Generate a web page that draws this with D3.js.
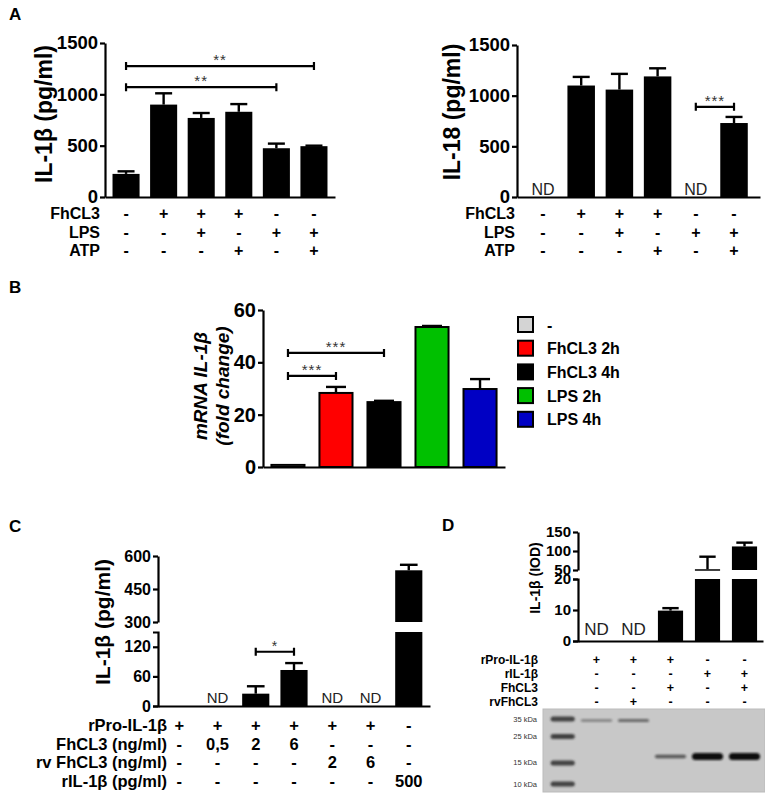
<!DOCTYPE html>
<html>
<head>
<meta charset="utf-8">
<script src="https://cdn.jsdelivr.net/npm/d3@7"></script>
<style>
body{margin:0;background:#fff}
svg text{font-family:Arial,"Liberation Sans",sans-serif}
</style>
</head>
<body>
<div id="viz-container"></div>
<script>
// ---- data ----
// A: IL-1b and IL-18 (pg/ml)
let aFhCL3 = ["-","+","+","+","-","-"];
let aLPS   = ["-","-","+","-","+","+"];
let aATP   = ["-","-","-","+","-","+"];
let il1bMean = [225, 900, 770, 830, 475, 495];
let il1bSem  = [25, 110, 48, 75, 45, 5];
let il18Mean = [null, 1100, 1060, 1190, null, 730];
let il18Sem  = [null, 85, 155, 80, null, 60];
let il1bTicks = [0, 500, 1000, 1500];
let il18Ticks = [0, 500, 1000, 1500];
let il1bSig = [{from:0, to:5, y:1275, label:"**"}, {from:0, to:4, y:1070, label:"**"}];
let il18Sig = [{from:4, to:5, y:890, label:"***"}];

// B: mRNA IL-1b fold change
let mrnaGroups = ["-","FhCL3 2h","FhCL3 4h","LPS 2h","LPS 4h"];
let mrnaColors = ["#d4d4d4","#ff0000","#000000","#00c000","#0000c4"];
let mrnaMean = [0.8, 28.3, 24.8, 53.5, 29.8];
let mrnaSem  = [0, 2.3, 0.5, 0.4, 3.8];
let mrnaTicks = [0, 20, 40, 60];
let mrnaSig = [{from:0, to:2, y:43.6, label:"***"}, {from:0, to:1, y:34.8, label:"***"}];

// C: IL-1b (pg/ml), broken axis
let cRows = ["rPro-IL-1\u03b2","FhCL3 (ng/ml)","rv FhCL3 (ng/ml)","rIL-1\u03b2 (pg/ml)"];
let cRowVals = [
  ["+","+","+","+","+","+","-"],
  ["-","0,5","2","6","-","-","-"],
  ["-","-","-","-","2","6","-"],
  ["-","-","-","-","-","-","500"]
];
let cMean = [0, null, 25, 73, null, null, 535];
let cSem  = [0, null, 15, 14, null, null, 25];
let cTicksLo = [0, 60, 120];
let cTicksHi = [300, 450, 600];
let cSig = [{from:2, to:3, y:110, label:"*"}];

// D: IL-1b (IOD), broken axis + gel
let dRows = ["rPro-IL-1\u03b2","rIL-1\u03b2","FhCL3","rvFhCL3"];
let dRowVals = [
  ["+","+","+","-","-"],
  ["-","-","-","+","+"],
  ["-","-","+","-","+"],
  ["-","+","-","-","-"]
];
let dMean = [null, null, 9.8, 52, 112];
let dSem  = [null, null, 0.8, 33, 10];
let dTicksLo = [0, 10, 20];
let dTicksHi = [50, 100, 150];
let markerKDa = [35, 25, 15, 10];
// gel bands: lane, kDa, darkness, thickness
let gelBands = [
  {lane:0, kda:34, dark:0.4, th:2.5},
  {lane:1, kda:34, dark:0.5, th:3},
  {lane:2, kda:17, dark:0.6, th:3.5},
  {lane:3, kda:17, dark:1.0, th:7},
  {lane:4, kda:17, dark:1.0, th:7}
];

// ---- drawing ----
let svg = d3.select("#viz-container").append("svg")
  .attr("width", 765).attr("height", 795);

let defs = svg.append("defs");
defs.append("filter").attr("id", "blur").attr("x", "-20%").attr("y", "-100%").attr("width", "140%").attr("height", "300%")
  .append("feGaussianBlur").attr("stdDeviation", "1.2 0.8");

function panelLabel(t, x, y){
  svg.append("text").attr("x", x).attr("y", y).text(t)
    .attr("font-size", 17).attr("font-weight", "bold");
}

function yAxis(scale, x, ticks, fs, outer){
  let g = svg.append("g").attr("transform", "translate(" + x + ",0)")
    .call(d3.axisLeft(scale).tickValues(ticks).tickFormat(d3.format("d"))
      .tickSize(5).tickPadding(2).tickSizeOuter(outer));
  g.select(".domain").attr("stroke-width", 2.2);
  g.selectAll(".tick line").attr("stroke-width", 2.2);
  g.selectAll(".tick text").attr("font-size", fs).attr("font-weight", "bold").attr("fill", "#000");
  return g;
}

function xLine(x, y0){
  let g = svg.append("g").attr("transform", "translate(0," + y0 + ")")
    .call(d3.axisBottom(x).tickValues([]).tickSizeOuter(0));
  g.select(".domain").attr("stroke-width", 2.2);
}

function errBars(data, x, yOf, cw){
  let c = x.bandwidth() / 2;
  let g = svg.append("g").attr("stroke", "#000").attr("stroke-width", 2.4);
  data.forEach(function(d){
    if (!d.s) return;
    let ys = yOf(d.v + d.s), yb = yOf(d.v);
    g.append("line").attr("x1", x(d.i) + c).attr("x2", x(d.i) + c).attr("y1", yb).attr("y2", ys);
    g.append("line").attr("x1", x(d.i) + c - cw/2).attr("x2", x(d.i) + c + cw/2).attr("y1", ys).attr("y2", ys);
  });
}

function brackets(sig, x, y, fs){
  let c = x.bandwidth() / 2;
  sig.forEach(function(s){
    let x1 = x(s.from) + c, x2 = x(s.to) + c, yy = y(s.y);
    svg.append("path")
      .attr("d", "M" + x1 + "," + (yy-4) + "V" + (yy+4) + "M" + x1 + "," + yy + "H" + x2 + "M" + x2 + "," + (yy-4) + "V" + (yy+4))
      .attr("stroke", "#000").attr("stroke-width", 2.2).attr("fill", "none");
    svg.append("text").attr("x", (x1 + x2) / 2).attr("y", yy - 1).attr("text-anchor", "middle")
      .attr("font-size", fs).attr("fill", "#333").attr("letter-spacing", 1).text(s.label);
  });
}

function rowTable(labels, vals, x, rightX, y0, dy, fsL, fsV){
  let c = x.bandwidth() / 2;
  labels.forEach(function(lab, r){
    svg.append("text").attr("x", rightX).attr("y", y0 + r*dy).attr("text-anchor", "end")
      .attr("font-size", fsL).attr("font-weight", "bold").text(lab);
    svg.selectAll(null).data(vals[r]).join("text")
      .attr("x", (d, i) => x(i) + c).attr("y", y0 + r*dy).attr("text-anchor", "middle")
      .attr("font-size", fsV).attr("font-weight", "bold").text(d => d);
  });
}

function ndLabels(data, x, y0, fs){
  let c = x.bandwidth() / 2;
  svg.selectAll(null).data(data.filter(d => d.v == null)).join("text")
    .attr("x", d => x(d.i) + c).attr("y", y0).attr("text-anchor", "middle")
    .attr("font-size", fs).attr("fill", "#222").text("ND");
}

function yLabel(lines, x, y, fs, italic, bold){
  let t = svg.append("text").attr("transform", "translate(" + x + "," + y + ") rotate(-90)")
    .attr("text-anchor", "middle").attr("font-size", fs)
    .attr("font-weight", bold ? "bold" : "normal").attr("font-style", italic ? "italic" : "normal");
  lines.forEach(function(l, k){
    t.append("tspan").attr("x", 0).attr("dy", k === 0 ? 0 : fs * 1.15).text(l);
  });
}

function pack(mean, sem){ return mean.map((v, i) => ({i: i, v: v, s: sem[i]})); }

// ---- Panel A left ----
panelLabel("A", 9, 20);
let xA1 = d3.scaleBand().domain(d3.range(6)).range([105, 335]).paddingInner(0.28).paddingOuter(0.2);
let yA1 = d3.scaleLinear().domain([0, 1500]).range([197, 43]);
let dA1 = pack(il1bMean, il1bSem);
svg.selectAll(null).data(dA1.filter(d => d.v != null)).join("rect")
  .attr("x", d => xA1(d.i)).attr("width", xA1.bandwidth())
  .attr("y", d => yA1(d.v)).attr("height", d => yA1(0) - yA1(d.v)).attr("fill", "#000");
errBars(dA1, xA1, yA1, 17);
yAxis(yA1, 105, il1bTicks, 18.5, 0);
xLine(xA1, 197);
brackets(il1bSig, xA1, yA1, 15);
rowTable(["FhCL3","LPS","ATP"], [aFhCL3, aLPS, aATP], xA1, 100, 219, 18.5, 16, 16);
yLabel(["IL-1\u03b2 (pg/ml)"], 52, 114, 23, false, true);

// ---- Panel A right ----
let xA2 = d3.scaleBand().domain(d3.range(6)).range([517, 760]).paddingInner(0.28).paddingOuter(0.32);
let yA2 = d3.scaleLinear().domain([0, 1500]).range([197, 45]);
let dA2 = pack(il18Mean, il18Sem);
svg.selectAll(null).data(dA2.filter(d => d.v != null)).join("rect")
  .attr("x", d => xA2(d.i)).attr("width", xA2.bandwidth())
  .attr("y", d => yA2(d.v)).attr("height", d => yA2(0) - yA2(d.v)).attr("fill", "#000");
errBars(dA2, xA2, yA2, 17);
yAxis(yA2, 517, il18Ticks, 18.5, 0);
xLine(xA2, 197);
brackets(il18Sig, xA2, yA2, 15);
ndLabels(dA2, xA2, 195, 16);
rowTable(["FhCL3","LPS","ATP"], [aFhCL3, aLPS, aATP], xA2, 515, 219, 18.5, 16, 16);
yLabel(["IL-18 (pg/ml)"], 460, 112, 23, false, true);

// ---- Panel B ----
panelLabel("B", 9, 293);
let xB = d3.scaleBand().domain(d3.range(5)).range([263, 505]).paddingInner(0.27).paddingOuter(0.155);
let yB = d3.scaleLinear().domain([0, 60]).range([467, 310]);
let dB = pack(mrnaMean, mrnaSem);
svg.selectAll(null).data(dB).join("rect")
  .attr("x", d => xB(d.i) + 1).attr("width", xB.bandwidth() - 2)
  .attr("y", d => yB(d.v)).attr("height", d => yB(0) - yB(d.v))
  .attr("fill", d => mrnaColors[d.i]).attr("stroke", "#000").attr("stroke-width", 2);
errBars(dB, xB, yB, 20);
yAxis(yB, 263, mrnaTicks, 20, 0);
xLine(xB, 467);
brackets(mrnaSig, xB, yB, 15);
yLabel(["mRNA IL-1\u03b2", "(fold change)"], 207, 386, 19, true, true);

let leg = svg.append("g").attr("transform", "translate(518,317)");
leg.selectAll("rect").data(mrnaGroups).join("rect")
  .attr("x", 0).attr("y", (d, i) => i * 23.7).attr("width", 15).attr("height", 15)
  .attr("fill", (d, i) => mrnaColors[i]).attr("stroke", "#000").attr("stroke-width", 2);
leg.selectAll("text").data(mrnaGroups).join("text")
  .attr("x", 29).attr("y", (d, i) => i * 23.7 + 13.5)
  .attr("font-size", 16).attr("font-weight", "bold").text(d => d);

// ---- Panel C ----
panelLabel("C", 9, 532);
let xC = d3.scaleBand().domain(d3.range(7)).range([158, 430]).paddingInner(0.29).paddingOuter(0.2);
let yClo = d3.scaleLinear().domain([0, 150]).range([706, 632]);
let yChi = d3.scaleLinear().domain([300, 600]).range([622, 556]);
let dC = pack(cMean, cSem);

function brokenBars(data, x, lo, hi){
  let loMax = lo.domain()[1], hiMin = hi.domain()[0];
  data.filter(d => d.v != null && d.v > 0).forEach(function(d){
    let top = Math.min(d.v, loMax);
    svg.append("rect").attr("x", x(d.i)).attr("width", x.bandwidth())
      .attr("y", lo(top)).attr("height", lo(0) - lo(top)).attr("fill", "#000");
    if (d.v > loMax){
      svg.append("rect").attr("x", x(d.i)).attr("width", x.bandwidth())
        .attr("y", hi(d.v)).attr("height", Math.max(hi(hiMin) - hi(d.v), 1.5)).attr("fill", "#000");
    }
  });
  errBars(data.filter(d => d.v != null), x, v => (v > loMax ? hi(v) : lo(v)), x.bandwidth() * 0.65);
}
brokenBars(dC, xC, yClo, yChi);
yAxis(yClo, 158, cTicksLo, 16, 5);
yAxis(yChi, 158, cTicksHi, 16, 0);
xLine(xC, 706);
brackets(cSig, xC, yClo, 14);
ndLabels(dC, xC, 703, 15);
rowTable(cRows, cRowVals, xC, 167, 731, 18.5, 16.5, 16.5);
yLabel(["IL-1\u03b2 (pg/ml)"], 110, 622, 21, false, true);

// ---- Panel D ----
panelLabel("D", 442, 531);
let xD = d3.scaleBand().domain(d3.range(5)).range([578, 763]).paddingInner(0.32).paddingOuter(0.16);
let yDlo = d3.scaleLinear().domain([0, 20]).range([641, 579]);
let yDhi = d3.scaleLinear().domain([50, 150]).range([570, 532]);
let dD = pack(dMean, dSem);
brokenBars(dD, xD, yDlo, yDhi);
yAxis(yDlo, 578, dTicksLo, 15, 5);
yAxis(yDhi, 578, dTicksHi, 15, 0);
xLine(xD, 641);
ndLabels(dD, xD, 635, 17);
rowTable(dRows, dRowVals, xD, 538, 664, 14, 12, 12.5);
yLabel(["IL-1\u03b2 (IOD)"], 540, 578, 14, false, true);

// gel
let kda = d3.scaleLog().domain([35, 10]).range([719, 784]);
let gel = svg.append("g");
gel.append("rect").attr("x", 543).attr("y", 709).attr("width", 222).attr("height", 83)
  .attr("fill", "#c8c8c8").attr("stroke", "#bbb");
let markerX = xD(0) - xD.step() * 0.9;
gel.selectAll(".marker").data(markerKDa).join("rect").attr("class", "marker")
  .attr("x", markerX).attr("width", xD.bandwidth() - 1)
  .attr("y", d => kda(d) - 2.5).attr("height", 5).attr("rx", 2.5)
  .attr("fill", "#2a2a2a").attr("opacity", 0.85).attr("filter", "url(#blur)");
gel.selectAll(".band").data(gelBands).join("rect").attr("class", "band")
  .attr("x", d => xD(d.lane) - 3).attr("width", xD.bandwidth() + 6)
  .attr("y", d => kda(d.kda) - d.th / 2).attr("height", d => d.th).attr("rx", d => d.th / 2)
  .attr("fill", "#111").attr("opacity", d => d.dark).attr("filter", "url(#blur)");
gel.selectAll(".kda").data(markerKDa).join("text").attr("class", "kda")
  .attr("x", 537).attr("y", d => kda(d) + 2.5).attr("text-anchor", "end")
  .attr("font-size", 7.5).attr("fill", "#333").text(d => d + " kDa");
</script>
</body>
</html>
